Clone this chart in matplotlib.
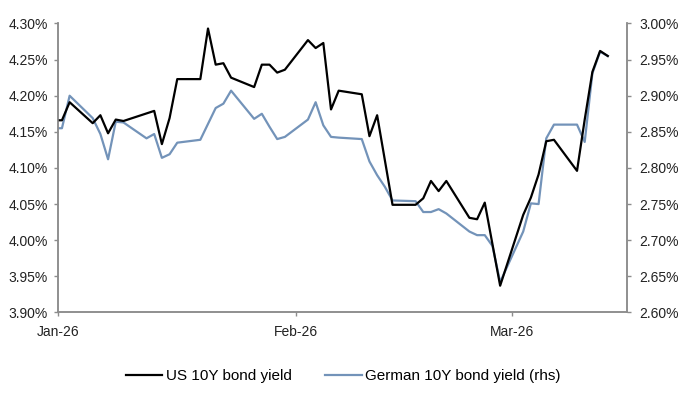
import matplotlib
matplotlib.use("Agg")
import matplotlib.pyplot as plt
import matplotlib.dates as mdates
from matplotlib.ticker import FuncFormatter, MultipleLocator
import pandas as pd

# daily yields, %
us_dates = ["2025-12-31", "2026-01-01", "2026-01-02", "2026-01-05", "2026-01-06", "2026-01-07",
            "2026-01-08", "2026-01-09", "2026-01-13", "2026-01-14", "2026-01-15", "2026-01-16",
            "2026-01-19", "2026-01-20", "2026-01-21", "2026-01-22", "2026-01-23", "2026-01-26",
            "2026-01-27", "2026-01-28", "2026-01-29", "2026-01-30", "2026-02-02", "2026-02-03",
            "2026-02-04", "2026-02-05", "2026-02-06", "2026-02-09", "2026-02-10", "2026-02-11",
            "2026-02-13", "2026-02-16", "2026-02-17", "2026-02-18", "2026-02-19", "2026-02-20",
            "2026-02-23", "2026-02-24", "2026-02-25", "2026-02-27", "2026-03-02", "2026-03-03",
            "2026-03-04", "2026-03-05", "2026-03-06", "2026-03-09", "2026-03-10", "2026-03-11",
            "2026-03-12", "2026-03-13"]
us_yield = [4.166, 4.166, 4.191, 4.162, 4.173, 4.148, 4.167, 4.165, 4.179, 4.133, 4.169, 4.223,
            4.223, 4.293, 4.243, 4.245, 4.225, 4.212, 4.243, 4.243, 4.232, 4.236, 4.277, 4.266,
            4.273, 4.181, 4.207, 4.202, 4.144, 4.173, 4.049, 4.049, 4.058, 4.082, 4.068, 4.082,
            4.031, 4.029, 4.052, 3.937, 4.035, 4.059, 4.091, 4.137, 4.139, 4.096, 4.167, 4.233,
            4.262, 4.255]

de_dates = ["2025-12-31", "2026-01-01", "2026-01-02", "2026-01-05", "2026-01-06", "2026-01-07",
            "2026-01-08", "2026-01-09", "2026-01-12", "2026-01-13", "2026-01-14", "2026-01-15",
            "2026-01-16", "2026-01-19", "2026-01-20", "2026-01-21", "2026-01-22", "2026-01-23",
            "2026-01-26", "2026-01-27", "2026-01-28", "2026-01-29", "2026-01-30", "2026-02-02",
            "2026-02-03", "2026-02-04", "2026-02-05", "2026-02-06", "2026-02-09", "2026-02-10",
            "2026-02-11", "2026-02-12", "2026-02-13", "2026-02-16", "2026-02-17", "2026-02-18",
            "2026-02-19", "2026-02-20", "2026-02-23", "2026-02-24", "2026-02-25", "2026-02-26",
            "2026-02-27", "2026-03-02", "2026-03-03", "2026-03-04", "2026-03-05", "2026-03-06",
            "2026-03-09", "2026-03-10", "2026-03-11", "2026-03-12", "2026-03-13"]
de_yield = [2.855, 2.855, 2.900, 2.869, 2.847, 2.812, 2.864, 2.863, 2.841, 2.847, 2.814, 2.819,
            2.835, 2.839, 2.861, 2.883, 2.889, 2.907, 2.868, 2.875, 2.857, 2.840, 2.843, 2.867,
            2.891, 2.859, 2.843, 2.842, 2.840, 2.809, 2.790, 2.774, 2.755, 2.754, 2.739, 2.739,
            2.743, 2.737, 2.712, 2.707, 2.707, 2.692, 2.642, 2.712, 2.751, 2.750, 2.841, 2.860,
            2.860, 2.836, 2.931, 2.961, 2.955]

us_label = "US 10Y bond yield"
de_label = "German 10Y bond yield (rhs)"

plt.rcParams['font.family'] = ['Liberation Sans', 'DejaVu Sans']

# points sit in the middle of each day, like the excel date axis
half_day = pd.Timedelta(hours=12)
us_x = pd.to_datetime(us_dates) + half_day
de_x = pd.to_datetime(de_dates) + half_day

fig = plt.figure(figsize=(7, 3.94), dpi=100)
ax = fig.add_axes([0.083, 0.207, 0.8127, 0.7334])
ax2 = ax.twinx()

ax2.plot(de_x, de_yield, color='#7393b9', lw=1.6, label=de_label)
ax.plot(us_x, us_yield, color='black', lw=1.6, label=us_label)
ax.set_zorder(ax2.get_zorder() + 1)
ax.patch.set_visible(False)

ax.set_xlim(pd.Timestamp("2026-01-01"), pd.Timestamp("2026-03-16"))
ax.set_ylim(3.90, 4.30)
ax2.set_ylim(2.60, 3.00)

pct = FuncFormatter(lambda v, p: f"{v:.2f}%")
for a in (ax, ax2):
    a.yaxis.set_major_locator(MultipleLocator(0.05))
    a.yaxis.set_major_formatter(pct)
    a.spines['top'].set_visible(False)
    for s in ('left', 'right', 'bottom'):
        a.spines[s].set_color('#8c8c8c')
        a.spines[s].set_linewidth(1.1)
    a.tick_params(axis='both', colors='#8c8c8c', labelcolor='#222222', labelsize=10,
                  length=3, width=1)

ax.xaxis.set_major_locator(mdates.MonthLocator())
ax.xaxis.set_major_formatter(mdates.DateFormatter('%b-%y'))
ax.tick_params(axis='x', pad=6)
ax.tick_params(axis='y', pad=4.5)
ax2.tick_params(axis='y', pad=6)

h1, l1 = ax.get_legend_handles_labels()
h2, l2 = ax2.get_legend_handles_labels()
fig.legend(h1 + h2, l1 + l2, loc='center', bbox_to_anchor=(0.49, 0.045), ncol=2,
           frameon=False, fontsize=11, handlelength=2.4, handletextpad=0.2,
           columnspacing=2.2)

fig.savefig("out.png", dpi=100)
